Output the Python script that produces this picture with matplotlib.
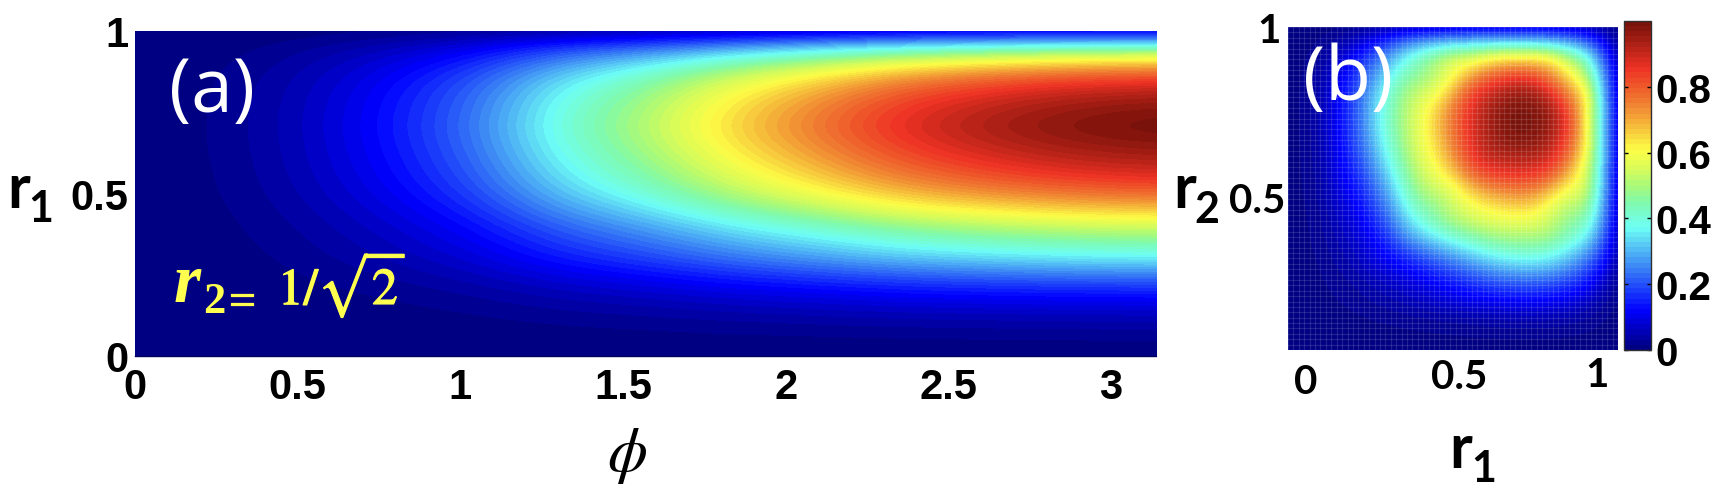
import numpy as np
import matplotlib
matplotlib.use("Agg")
import matplotlib.pyplot as plt
import matplotlib.patheffects as pe
from matplotlib.colors import LinearSegmentedColormap

W, H = 1732, 502

# panel (a): value on a uniform grid, rows r1 = 0..1, columns phi = 0..pi
phi_range = [0, np.pi]
r_range = [0, 1]
panel_a = [
 [0,0,0,0,0,0,0,0,0,0,0,0,0],
 [0,0,.001,.002,.004,.006,.008,.010,.011,.013,.014,.015,.015],
 [0,.001,.002,.005,.009,.016,.02,.026,.03,.035,.037,.039,.04],
 [0,.001,.005,.011,.02,.034,.043,.055,.065,.074,.079,.083,.085],
 [0,.002,.009,.02,.035,.06,.077,.098,.114,.131,.14,.147,.15],
 [0,.004,.015,.033,.058,.098,.125,.159,.186,.213,.229,.24,.245],
 [0,.005,.021,.048,.083,.142,.181,.231,.27,.309,.332,.348,.355],
 [0,.007,.027,.061,.106,.18,.23,.293,.342,.392,.421,.441,.45],
 [0,.008,.033,.074,.129,.22,.281,.358,.418,.479,.514,.539,.55],
 [0,.01,.04,.09,.157,.268,.342,.436,.509,.583,.626,.657,.67],
 [0,.012,.047,.105,.183,.312,.398,.507,.593,.679,.729,.764,.78],
 [0,.013,.052,.117,.203,.346,.441,.562,.657,.753,.809,.848,.865],
 [0,.014,.056,.125,.217,.37,.472,.601,.703,.805,.865,.907,.925],
 [0,.015,.058,.131,.228,.388,.495,.631,.737,.844,.907,.951,.97],
 [0,.015,.06,.135,.235,.399,.509,.649,.758,.868,.933,.978,.998],
 [0,.015,.059,.133,.231,.394,.502,.64,.749,.857,.921,.965,.985],
 [0,.014,.056,.127,.221,.376,.479,.611,.714,.818,.879,.921,.94],
 [0,.013,.051,.115,.2,.34,.434,.553,.646,.74,.795,.833,.85],
 [0,.01,.041,.092,.16,.272,.347,.442,.517,.592,.636,.666,.68],
 [0,.006,.026,.058,.101,.172,.219,.28,.327,.374,.402,.421,.43],
 [0,.001,.005,.011,.019,.032,.041,.052,.061,.07,.075,.078,.08],
]

# panel (b): value on a uniform grid, rows r2 = 0..1, columns r1 = 0..1
panel_b = [
 [0,0,0,0,.001,.001,.002,.002,.003,.003,.004,.004,.005,.005,.005,.005,.005,.004,.004,.002,0],
 [0,.001,.002,.004,.005,.007,.009,.011,.012,.014,.016,.017,.018,.019,.02,.02,.019,.017,.014,.009,.002],
 [0,.002,.005,.008,.012,.016,.02,.024,.028,.032,.036,.04,.045,.048,.05,.05,.048,.042,.03,.02,.005],
 [0,.004,.008,.015,.022,.03,.04,.05,.062,.075,.088,.1,.108,.113,.115,.115,.11,.095,.07,.04,.01],
 [.001,.005,.012,.022,.03,.045,.06,.075,.09,.11,.13,.15,.17,.185,.19,.19,.18,.16,.13,.07,.02],
 [.001,.007,.016,.03,.045,.07,.09,.115,.14,.17,.2,.23,.26,.285,.3,.3,.285,.25,.2,.12,.03],
 [.002,.009,.02,.04,.06,.09,.125,.165,.21,.25,.29,.33,.37,.395,.41,.41,.39,.34,.28,.18,.04],
 [.002,.011,.024,.05,.075,.115,.165,.25,.31,.36,.405,.44,.47,.49,.5,.5,.48,.43,.37,.24,.05],
 [.003,.012,.028,.062,.09,.14,.21,.31,.39,.45,.5,.53,.56,.575,.58,.57,.53,.47,.44,.29,.055],
 [.003,.014,.032,.075,.11,.17,.25,.36,.45,.48,.54,.59,.63,.655,.67,.655,.58,.52,.5,.32,.06],
 [.004,.016,.036,.088,.13,.2,.29,.405,.5,.54,.58,.67,.73,.76,.77,.76,.69,.6,.56,.34,.065],
 [.004,.017,.04,.1,.15,.23,.33,.44,.53,.59,.67,.78,.84,.86,.87,.86,.82,.7,.57,.35,.065],
 [.005,.018,.045,.108,.17,.26,.37,.47,.56,.63,.73,.84,.9,.925,.93,.925,.88,.78,.61,.36,.07],
 [.005,.019,.048,.113,.185,.285,.395,.49,.575,.655,.76,.86,.925,.97,.98,.975,.93,.82,.65,.36,.07],
 [.005,.02,.05,.115,.19,.3,.41,.5,.58,.67,.77,.87,.93,.98,1.0,.99,.95,.85,.65,.36,.07],
 [.005,.02,.05,.115,.19,.3,.41,.5,.57,.655,.76,.86,.925,.975,.99,.985,.94,.82,.65,.36,.07],
 [.005,.019,.048,.11,.18,.285,.39,.48,.53,.58,.69,.82,.88,.93,.95,.94,.86,.74,.63,.34,.065],
 [.004,.017,.042,.095,.16,.25,.34,.43,.47,.52,.6,.7,.78,.82,.85,.82,.74,.64,.52,.31,.06],
 [.004,.014,.03,.07,.13,.2,.28,.37,.44,.5,.56,.57,.61,.65,.65,.65,.63,.52,.44,.24,.05],
 [.002,.009,.02,.04,.07,.12,.18,.24,.29,.32,.34,.35,.36,.36,.36,.36,.34,.31,.24,.14,.03],
 [0,.002,.005,.01,.02,.03,.04,.05,.055,.06,.065,.065,.07,.07,.07,.07,.065,.06,.05,.03,.01],
]

a_xticks = [0, 0.5, 1, 1.5, 2, 2.5, 3]
a_xlabels = ["0", "0.5", "1", "1.5", "2", "2.5", "3"]
a_yticks = [0, 0.5, 1]
a_ylabels = ["0", "0.5", "1"]
cbar_ticks = [0, 0.2, 0.4, 0.6, 0.8]
cbar_labels = ["0", "0.2", "0.4", "0.6", "0.8"]

cmap_nodes = [
 (0.00, (0, 0, 130)), (0.115, (0, 0, 255)), (0.25, (60, 135, 245)),
 (0.37, (110, 255, 245)), (0.45, (130, 250, 170)), (0.50, (170, 250, 120)),
 (0.55, (215, 252, 90)), (0.61, (253, 253, 70)),
 (0.75, (240, 130, 50)), (0.86, (238, 50, 36)), (1.00, (120, 18, 10)),
]
cmap = LinearSegmentedColormap.from_list(
    "ref_jet", [(p, tuple(c / 255 for c in rgb)) for p, rgb in cmap_nodes], N=64)

plt.rcParams["font.family"] = ["Liberation Sans", "DejaVu Sans"]
plt.rcParams["mathtext.fontset"] = "stix"

fig = plt.figure(figsize=(W / 100, H / 100), dpi=100)


def add_axes(x0, y0, x1, y1):
    return fig.add_axes([x0 / W, 1 - y1 / H, (x1 - x0) / W, (y1 - y0) / H])


def label(x, y, s, **kw):
    kw.setdefault("ha", "center")
    kw.setdefault("va", "center")
    return fig.text(x / W, 1 - y / H, s, **kw)


def show(ax, table, xr, yr):
    t = np.array(table)
    dx = (xr[1] - xr[0]) / (t.shape[1] - 1)
    dy = (yr[1] - yr[0]) / (t.shape[0] - 1)
    im = ax.imshow(t, origin="lower", aspect="auto", cmap=cmap, vmin=0, vmax=1,
                   extent=[xr[0] - dx / 2, xr[1] + dx / 2, yr[0] - dy / 2, yr[1] + dy / 2],
                   interpolation="bicubic", interpolation_stage="data")
    ax.set_xlim(xr)
    ax.set_ylim(yr)
    for s in ax.spines.values():
        s.set_visible(False)
    return im


# panel (a)
ax_a = add_axes(135, 32, 1157, 357)
im = show(ax_a, panel_a, phi_range, r_range)
ax_a.set_xticks(a_xticks, a_xlabels, fontsize=30, fontweight="bold")
ax_a.set_yticks(a_yticks, a_ylabels, fontsize=30, fontweight="bold")
ax_a.tick_params(axis="x", length=0, pad=8)
ax_a.tick_params(axis="y", length=0, pad=5)
ax_a.spines["bottom"].set_visible(True)
ax_a.spines["bottom"].set_linestyle((0, (1, 1)))
ax_a.spines["bottom"].set_color("#000060")
ax_a.spines["bottom"].set_linewidth(1)

# panel (b)
ax_b = add_axes(1288, 28, 1618, 351)
show(ax_b, panel_b, r_range, r_range)
ax_b.set_xticks([])
ax_b.set_yticks([])
ax_b.set_xticks(np.linspace(0, 1, 62), minor=True)
ax_b.set_yticks(np.linspace(0, 1, 61), minor=True)
ax_b.tick_params(which="both", length=0)
ax_b.grid(which="minor", color="white", alpha=0.13, linewidth=0.9)

# colorbar
cax = add_axes(1624, 22, 1651, 351)
cb = fig.colorbar(im, cax=cax, ticks=cbar_ticks)
cb.ax.set_yticklabels(cbar_labels, fontsize=29, fontweight="bold")
cb.ax.tick_params(direction="in", length=3, width=1, left=True, right=True, pad=3)
cb.outline.set_edgecolor("#303030")
cb.outline.set_linewidth(1)

# pasted labels of panel (b)
lato = dict(family=["Lato", "DejaVu Sans"], fontweight="bold", color="black")
label(1269, 32, "1", fontsize=29, **lato)
label(1257, 202, "0.5", fontsize=29, **lato)
label(1306, 383, "0", fontsize=29, **lato)
label(1459, 378, "0.5", fontsize=29, **lato)
label(1597, 376, "1", fontsize=29, **lato)

# axis names
big = dict(family=["Lato", "DejaVu Sans"], fontweight="bold", color="black")
for rx, ry, sx, sy, sub in [(19, 194, 41, 209, "1"), (1185, 194, 1207, 210, "2"), (1461, 454, 1484, 469, "1")]:
    label(rx, ry - 4, "r", fontsize=44, **big)
    label(sx, sy, sub, fontsize=31, **big)
label(627, 456, r"$\phi$", fontsize=46, color="black")

# panel captions
white = dict(family=["Open Sans", "DejaVu Sans"], color="white", fontweight="medium")
label(212, 92, "(a)", fontsize=54, **white)
label(1348, 80, "(b)", fontsize=54, **white)

# annotation in panel (a)
yel = "#FFFF50"
thick = [pe.withStroke(linewidth=0.9, foreground=yel)]
label(187, 285, "r", fontsize=50, family=["Liberation Serif"], fontweight="bold", style="italic", color=yel)
label(214, 302, "2", fontsize=32, family=["Liberation Serif"], fontweight="bold", color=yel)
label(242, 305, "=", fontsize=34, family=["Liberation Serif"], color=yel, path_effects=thick)
label(342, 286, r"$1/\sqrt{2}$", fontsize=37, color=yel, path_effects=thick)

fig.savefig("out.png", dpi=100)
